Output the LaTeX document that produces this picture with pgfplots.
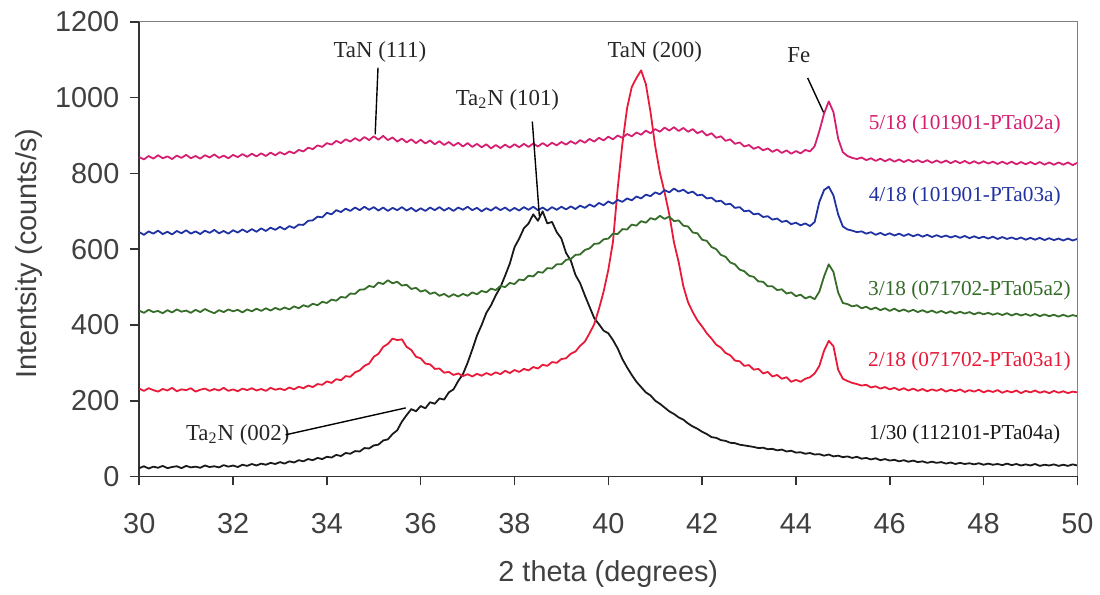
\documentclass[border=0pt]{standalone}
\usepackage{pgfplots}
\pgfplotsset{compat=1.18}
\usepackage{fontspec}
\setmainfont{Liberation Sans}
\newfontfamily\serif{Liberation Serif}

\definecolor{cmag}{RGB}{214,30,112}
\definecolor{cblue}{RGB}{32,50,162}
\definecolor{cgreen}{RGB}{52,108,40}
\definecolor{cred}{RGB}{232,26,56}
\definecolor{cblk}{RGB}{25,25,25}

\begin{document}
\begin{tikzpicture}
\begin{axis}[
  scale only axis, width=471.5pt, height=228.5pt,
  xmin=30, xmax=50, ymin=0, ymax=1200,
  xtick distance=2, ytick distance=200,
  axis x line*=bottom, axis y line*=left,
  axis line style={black!80, line width=0.8pt, -},
  tick style={black!80, line width=0.8pt},
  tick align=outside, major tick length=4.5pt,
  /pgf/number format/assume math mode=true,
  /pgf/number format/1000 sep={},
  ticklabel style={font=\fontsize{14.5}{17}\selectfont, text=black!75},
  yticklabel style={xshift=-2pt},
  xticklabel style={yshift=-10.5pt},
  label style={font=\fontsize{14.5}{17}\selectfont, text=black!75},
  xlabel={2 theta (degrees)},
  ylabel={Intentsity (counts/s)},
  xlabel style={at={(axis description cs:0.5,-0.215)}, anchor=center},
  ylabel style={at={(axis description cs:-0.118,0.49)}, anchor=center, rotate=0},
  every axis plot/.append style={line width=0.9pt, line join=round},
  clip=false,
]
% 1/30 (112101-PTa04a)
\addplot[cblk] table[row sep=\\] {
30.0 22\\30.1 27\\30.2 21\\30.3 26\\30.4 23\\30.5 28\\30.6 22\\30.7 25\\30.8 27\\30.9 22\\
31.0 28\\31.1 24\\31.2 26\\31.3 23\\31.4 29\\31.5 25\\31.6 27\\31.7 24\\31.8 30\\31.9 26\\
32.0 29\\32.1 25\\32.2 31\\32.3 28\\32.4 33\\32.5 29\\32.6 34\\32.7 31\\32.8 36\\32.9 33\\
33.0 38\\33.1 34\\33.2 40\\33.3 37\\33.4 43\\33.5 40\\33.6 46\\33.7 43\\33.8 49\\33.9 46\\
34.0 52\\34.1 50\\34.2 57\\34.3 54\\34.4 62\\34.5 60\\34.6 67\\34.7 66\\34.8 75\\34.9 74\\
35.0 82\\35.1 84\\35.2 95\\35.3 98\\35.4 112\\35.5 122\\35.6 145\\35.7 162\\35.8 178\\35.9 172\\
36.0 186\\36.1 180\\36.2 196\\36.3 192\\36.4 206\\36.5 203\\36.6 222\\36.7 230\\36.8 252\\36.9 270\\
37.0 300\\37.1 335\\37.2 372\\37.3 400\\37.4 432\\37.5 452\\37.6 478\\37.7 500\\37.8 530\\37.9 562\\
38.0 605\\38.1 628\\38.2 655\\38.3 668\\38.4 692\\38.5 675\\38.6 700\\38.7 668\\38.8 672\\38.9 645\\
39.0 628\\39.1 590\\39.2 570\\39.3 532\\39.4 510\\39.5 478\\39.6 448\\39.7 418\\39.8 402\\39.9 385\\
40.0 378\\40.1 360\\40.2 338\\40.3 310\\40.4 288\\40.5 268\\40.6 250\\40.7 236\\40.8 222\\40.9 214\\
41.0 200\\41.1 192\\41.2 182\\41.3 172\\41.4 165\\41.5 156\\41.6 150\\41.7 140\\41.8 132\\41.9 126\\
42.0 118\\42.1 112\\42.2 104\\42.3 102\\42.4 96\\42.5 94\\42.6 89\\42.7 88\\42.8 84\\42.9 82\\
43.0 80\\43.1 78\\43.2 75\\43.3 76\\43.4 72\\43.5 73\\43.6 69\\43.7 71\\43.8 66\\43.9 68\\
44.0 63\\44.1 64\\44.2 60\\44.3 62\\44.4 58\\44.5 59\\44.6 55\\44.7 58\\44.8 53\\44.9 55\\
45.0 51\\45.1 53\\45.2 49\\45.3 52\\45.4 47\\45.5 49\\45.6 45\\45.7 48\\45.8 43\\45.9 46\\
46.0 42\\46.1 44\\46.2 40\\46.3 43\\46.4 39\\46.5 42\\46.6 38\\46.7 40\\46.8 36\\46.9 39\\
47.0 36\\47.1 38\\47.2 34\\47.3 37\\47.4 33\\47.5 36\\47.6 33\\47.7 35\\47.8 32\\47.9 35\\
48.0 31\\48.1 34\\48.2 31\\48.3 33\\48.4 30\\48.5 34\\48.6 30\\48.7 33\\48.8 29\\48.9 32\\
49.0 29\\49.1 33\\49.2 28\\49.3 31\\49.4 29\\49.5 32\\49.6 28\\49.7 31\\49.8 28\\49.9 32\\
50.0 29\\
};

% 2/18 (071702-PTa03a1)
\addplot[cred] table[row sep=\\] {
30.0 232\\30.1 226\\30.2 233\\30.3 228\\30.4 224\\30.5 231\\30.6 227\\30.7 234\\30.8 225\\30.9 230\\
31.0 228\\31.1 233\\31.2 224\\31.3 229\\31.4 232\\31.5 226\\31.6 231\\31.7 227\\31.8 234\\31.9 226\\
32.0 230\\32.1 225\\32.2 232\\32.3 228\\32.4 233\\32.5 227\\32.6 231\\32.7 226\\32.8 234\\32.9 229\\
33.0 232\\33.1 228\\33.2 235\\33.3 230\\33.4 237\\33.5 233\\33.6 240\\33.7 236\\33.8 244\\33.9 242\\
34.0 251\\34.1 247\\34.2 257\\34.3 254\\34.4 265\\34.5 263\\34.6 275\\34.7 280\\34.8 292\\34.9 298\\
35.0 316\\35.1 324\\35.2 342\\35.3 350\\35.4 364\\35.5 360\\35.6 362\\35.7 342\\35.8 334\\35.9 316\\
36.0 312\\36.1 298\\36.2 296\\36.3 284\\36.4 285\\36.5 274\\36.6 276\\36.7 268\\36.8 272\\36.9 265\\
37.0 270\\37.1 264\\37.2 271\\37.3 266\\37.4 273\\37.5 268\\37.6 275\\37.7 270\\37.8 279\\37.9 273\\
38.0 281\\38.1 276\\38.2 284\\38.3 280\\38.4 289\\38.5 285\\38.6 295\\38.7 292\\38.8 302\\38.9 300\\
39.0 310\\39.1 312\\39.2 324\\39.3 330\\39.4 345\\39.5 356\\39.6 378\\39.7 402\\39.8 442\\39.9 488\\
40.0 545\\40.1 620\\40.2 760\\40.3 878\\40.4 972\\40.5 1028\\40.6 1052\\40.7 1072\\40.8 1036\\40.9 962\\
41.0 872\\41.1 802\\41.2 750\\41.3 692\\41.4 618\\41.5 566\\41.6 502\\41.7 460\\41.8 434\\41.9 412\\
42.0 396\\42.1 378\\42.2 364\\42.3 348\\42.4 340\\42.5 326\\42.6 320\\42.7 306\\42.8 304\\42.9 292\\
43.0 294\\43.1 282\\43.2 284\\43.3 272\\43.4 276\\43.5 264\\43.6 268\\43.7 258\\43.8 262\\43.9 250\\
44.0 255\\44.1 250\\44.2 258\\44.3 262\\44.4 272\\44.5 292\\44.6 332\\44.7 358\\44.8 344\\44.9 282\\
45.0 258\\45.1 252\\45.2 247\\45.3 244\\45.4 240\\45.5 242\\45.6 235\\45.7 238\\45.8 232\\45.9 236\\
46.0 230\\46.1 234\\46.2 228\\46.3 233\\46.4 227\\46.5 232\\46.6 226\\46.7 231\\46.8 225\\46.9 230\\
47.0 226\\47.1 231\\47.2 224\\47.3 229\\47.4 225\\47.5 230\\47.6 223\\47.7 228\\47.8 224\\47.9 229\\
48.0 222\\48.1 227\\48.2 223\\48.3 228\\48.4 221\\48.5 226\\48.6 222\\48.7 227\\48.8 220\\48.9 226\\
49.0 222\\49.1 227\\49.2 221\\49.3 225\\49.4 220\\49.5 226\\49.6 221\\49.7 225\\49.8 220\\49.9 224\\
50.0 222\\
};

% 3/18 (071702-PTa05a2)
\addplot[cgreen] table[row sep=\\] {
30.0 438\\30.1 432\\30.2 440\\30.3 434\\30.4 437\\30.5 431\\30.6 439\\30.7 433\\30.8 441\\30.9 435\\
31.0 438\\31.1 432\\31.2 440\\31.3 434\\31.4 442\\31.5 436\\31.6 431\\31.7 439\\31.8 434\\31.9 441\\
32.0 436\\32.1 440\\32.2 433\\32.3 441\\32.4 436\\32.5 443\\32.6 437\\32.7 444\\32.8 438\\32.9 445\\
33.0 440\\33.1 446\\33.2 441\\33.3 449\\33.4 444\\33.5 452\\33.6 448\\33.7 456\\33.8 452\\33.9 461\\
34.0 458\\34.1 467\\34.2 464\\34.3 474\\34.4 472\\34.5 483\\34.6 482\\34.7 493\\34.8 494\\34.9 503\\
35.0 500\\35.1 512\\35.2 508\\35.3 518\\35.4 510\\35.5 514\\35.6 504\\35.7 506\\35.8 495\\35.9 498\\
36.0 488\\36.1 492\\36.2 482\\36.3 486\\36.4 477\\36.5 482\\36.6 474\\36.7 481\\36.8 475\\36.9 482\\
37.0 477\\37.1 486\\37.2 481\\37.3 490\\37.4 486\\37.5 496\\37.6 492\\37.7 503\\37.8 500\\37.9 511\\
38.0 508\\38.1 520\\38.2 518\\38.3 530\\38.4 528\\38.5 540\\38.6 538\\38.7 550\\38.8 549\\38.9 560\\
39.0 560\\39.1 572\\39.2 574\\39.3 585\\39.4 586\\39.5 598\\39.6 602\\39.7 614\\39.8 615\\39.9 626\\
40.0 628\\40.1 641\\40.2 640\\40.3 653\\40.4 652\\40.5 665\\40.6 662\\40.7 674\\40.8 670\\40.9 682\\
41.0 678\\41.1 688\\41.2 680\\41.3 686\\41.4 674\\41.5 676\\41.6 662\\41.7 660\\41.8 644\\41.9 642\\
42.0 625\\42.1 622\\42.2 606\\42.3 600\\42.4 585\\42.5 580\\42.6 565\\42.7 560\\42.8 546\\42.9 542\\
43.0 530\\43.1 527\\43.2 515\\43.3 514\\43.4 502\\43.5 502\\43.6 492\\43.7 494\\43.8 483\\43.9 486\\
44.0 476\\44.1 480\\44.2 470\\44.3 475\\44.4 468\\44.5 488\\44.6 528\\44.7 560\\44.8 540\\44.9 486\\
45.0 458\\45.1 455\\45.2 449\\45.3 452\\45.4 444\\45.5 448\\45.6 441\\45.7 446\\45.8 439\\45.9 444\\
46.0 437\\46.1 443\\46.2 436\\46.3 441\\46.4 435\\46.5 440\\46.6 434\\46.7 439\\46.8 433\\46.9 438\\
47.0 432\\47.1 437\\47.2 431\\47.3 436\\47.4 430\\47.5 435\\47.6 430\\47.7 434\\47.8 428\\47.9 433\\
48.0 428\\48.1 432\\48.2 427\\48.3 431\\48.4 426\\48.5 431\\48.6 425\\48.7 430\\48.8 425\\48.9 429\\
49.0 424\\49.1 429\\49.2 423\\49.3 428\\49.4 423\\49.5 427\\49.6 422\\49.7 427\\49.8 422\\49.9 426\\
50.0 423\\
};

% 4/18 (101901-PTa03a)
\addplot[cblue] table[row sep=\\] {
30.0 645\\30.1 638\\30.2 647\\30.3 641\\30.4 649\\30.5 640\\30.6 646\\30.7 639\\30.8 648\\30.9 642\\
31.0 650\\31.1 641\\31.2 647\\31.3 640\\31.4 649\\31.5 643\\31.6 651\\31.7 642\\31.8 648\\31.9 641\\
32.0 650\\32.1 644\\32.2 652\\32.3 645\\32.4 653\\32.5 646\\32.6 655\\32.7 648\\32.8 657\\32.9 651\\
33.0 659\\33.1 652\\33.2 661\\33.3 656\\33.4 665\\33.5 664\\33.6 675\\33.7 676\\33.8 686\\33.9 684\\
34.0 696\\34.1 692\\34.2 703\\34.3 698\\34.4 707\\34.5 701\\34.6 710\\34.7 703\\34.8 712\\34.9 704\\
35.0 711\\35.1 702\\35.2 710\\35.3 701\\35.4 709\\35.5 703\\35.6 711\\35.7 702\\35.8 709\\35.9 700\\
36.0 708\\36.1 701\\36.2 710\\36.3 703\\36.4 711\\36.5 702\\36.6 709\\36.7 701\\36.8 710\\36.9 704\\
37.0 712\\37.1 703\\37.2 709\\37.3 700\\37.4 708\\37.5 702\\37.6 711\\37.7 703\\37.8 710\\37.9 701\\
38.0 709\\38.1 702\\38.2 711\\38.3 704\\38.4 712\\38.5 703\\38.6 710\\38.7 702\\38.8 711\\38.9 704\\
39.0 712\\39.1 705\\39.2 713\\39.3 706\\39.4 715\\39.5 709\\39.6 718\\39.7 712\\39.8 722\\39.9 716\\
40.0 726\\40.1 720\\40.2 730\\40.3 725\\40.4 734\\40.5 729\\40.6 739\\40.7 734\\40.8 744\\40.9 740\\
41.0 750\\41.1 745\\41.2 756\\41.3 750\\41.4 760\\41.5 752\\41.6 757\\41.7 748\\41.8 752\\41.9 742\\
42.0 744\\42.1 734\\42.2 736\\42.3 726\\42.4 728\\42.5 718\\42.6 720\\42.7 709\\42.8 711\\42.9 700\\
43.0 702\\43.1 692\\43.2 694\\43.3 685\\43.4 687\\43.5 678\\43.6 681\\43.7 672\\43.8 675\\43.9 666\\
44.0 670\\44.1 663\\44.2 668\\44.3 661\\44.4 672\\44.5 725\\44.6 756\\44.7 765\\44.8 742\\44.9 692\\
45.0 660\\45.1 652\\45.2 649\\45.3 645\\45.4 647\\45.5 641\\45.6 645\\45.7 638\\45.8 643\\45.9 637\\
46.0 642\\46.1 636\\46.2 641\\46.3 635\\46.4 640\\46.5 634\\46.6 639\\46.7 633\\46.8 638\\46.9 632\\
47.0 637\\47.1 632\\47.2 636\\47.3 631\\47.4 635\\47.5 630\\47.6 635\\47.7 629\\47.8 634\\47.9 629\\
48.0 633\\48.1 628\\48.2 633\\48.3 627\\48.4 632\\48.5 627\\48.6 631\\48.7 626\\48.8 631\\48.9 625\\
49.0 630\\49.1 625\\49.2 630\\49.3 624\\49.4 629\\49.5 624\\49.6 628\\49.7 623\\49.8 628\\49.9 623\\
50.0 627\\
};

% 5/18 (101901-PTa02a)
\addplot[cmag] table[row sep=\\] {
30.0 843\\30.1 837\\30.2 846\\30.3 839\\30.4 848\\30.5 840\\30.6 845\\30.7 838\\30.8 847\\30.9 841\\
31.0 849\\31.1 840\\31.2 846\\31.3 839\\31.4 848\\31.5 842\\31.6 850\\31.7 841\\31.8 847\\31.9 840\\
32.0 849\\32.1 843\\32.2 851\\32.3 844\\32.4 852\\32.5 845\\32.6 853\\32.7 846\\32.8 855\\32.9 848\\
33.0 856\\33.1 850\\33.2 858\\33.3 853\\33.4 862\\33.5 858\\33.6 868\\33.7 864\\33.8 874\\33.9 870\\
34.0 880\\34.1 876\\34.2 886\\34.3 880\\34.4 890\\34.5 884\\34.6 893\\34.7 886\\34.8 896\\34.9 888\\
35.0 898\\35.1 889\\35.2 899\\35.3 888\\35.4 895\\35.5 884\\35.6 892\\35.7 882\\35.8 890\\35.9 880\\
36.0 889\\36.1 879\\36.2 887\\36.3 877\\36.4 885\\36.5 875\\36.6 883\\36.7 873\\36.8 881\\36.9 871\\
37.0 880\\37.1 870\\37.2 878\\37.3 869\\37.4 877\\37.5 866\\37.6 875\\37.7 867\\37.8 876\\37.9 868\\
38.0 877\\38.1 869\\38.2 878\\38.3 870\\38.4 879\\38.5 871\\38.6 880\\38.7 872\\38.8 881\\38.9 874\\
39.0 883\\39.1 876\\39.2 885\\39.3 878\\39.4 888\\39.5 881\\39.6 891\\39.7 884\\39.8 894\\39.9 887\\
40.0 897\\40.1 890\\40.2 900\\40.3 894\\40.4 904\\40.5 898\\40.6 908\\40.7 902\\40.8 913\\40.9 906\\
41.0 917\\41.1 910\\41.2 921\\41.3 913\\41.4 922\\41.5 912\\41.6 920\\41.7 910\\41.8 917\\41.9 906\\
42.0 912\\42.1 900\\42.2 906\\42.3 894\\42.4 898\\42.5 886\\42.6 890\\42.7 878\\42.8 882\\42.9 871\\
43.0 875\\43.1 865\\43.2 870\\43.3 861\\43.4 866\\43.5 857\\43.6 863\\43.7 854\\43.8 861\\43.9 852\\
44.0 859\\44.1 853\\44.2 862\\44.3 858\\44.4 872\\44.5 912\\44.6 958\\44.7 990\\44.8 962\\44.9 892\\
45.0 856\\45.1 846\\45.2 841\\45.3 838\\45.4 842\\45.5 835\\45.6 840\\45.7 833\\45.8 839\\45.9 832\\
46.0 838\\46.1 831\\46.2 837\\46.3 830\\46.4 836\\46.5 830\\46.6 835\\46.7 829\\46.8 835\\46.9 828\\
47.0 834\\47.1 828\\47.2 834\\47.3 827\\47.4 833\\47.5 827\\47.6 833\\47.7 826\\47.8 832\\47.9 826\\
48.0 832\\48.1 826\\48.2 831\\48.3 825\\48.4 831\\48.5 825\\48.6 831\\48.7 824\\48.8 830\\48.9 824\\
49.0 830\\49.1 824\\49.2 830\\49.3 823\\49.4 829\\49.5 823\\49.6 829\\49.7 823\\49.8 829\\49.9 822\\
50.0 828\\
};

% faint frame on top and right
\draw[black!50, line width=0.6pt] (rel axis cs:0,1) -- (rel axis cs:1,1) -- (rel axis cs:1,0);

% series names
\begin{scope}[every node/.style={font=\serif\fontsize{10.7}{12}\selectfont, anchor=center, inner sep=0pt}]
\node[text=cmag]  at (axis cs:47.6,929) {5/18 (101901-PTa02a)};
\node[text=cblue] at (axis cs:47.6,740) {4/18 (101901-PTa03a)};
\node[text=cgreen]at (axis cs:47.7,491) {3/18 (071702-PTa05a2)};
\node[text=cred]  at (axis cs:47.7,304) {2/18 (071702-PTa03a1)};
\node[text=cblk]  at (axis cs:47.6,110) {1/30 (112101-PTa04a)};
\end{scope}

% peak annotations
\begin{scope}[every node/.style={font=\serif\fontsize{11.5}{13}\selectfont, text=black!85, anchor=center, inner sep=0pt}]
\node at (axis cs:35.13,1121) {TaN (111)};
\draw[black, line width=0.7pt] (axis cs:35.09,1079) -- (axis cs:35.03,903);
\node at (axis cs:37.85,995) {Ta\textsubscript{2}N (101)};
\draw[black, line width=0.7pt] (axis cs:38.38,937) -- (axis cs:38.53,688);
\node at (axis cs:40.99,1121) {TaN (200)};
\node at (axis cs:44.06,1113) {Fe};
\draw[black, line width=0.7pt] (axis cs:44.25,1052) -- (axis cs:44.59,961);
\node at (axis cs:32.1,110) {Ta\textsubscript{2}N (002)};
\draw[black, line width=0.7pt] (axis cs:33.12,110) -- (axis cs:35.68,181);
\end{scope}
\end{axis}
\path ([shift={(-70pt,-53pt)}]current axis.south west) rectangle ([shift={(8.5pt,11pt)}]current axis.north east);
\end{tikzpicture}
\end{document}
